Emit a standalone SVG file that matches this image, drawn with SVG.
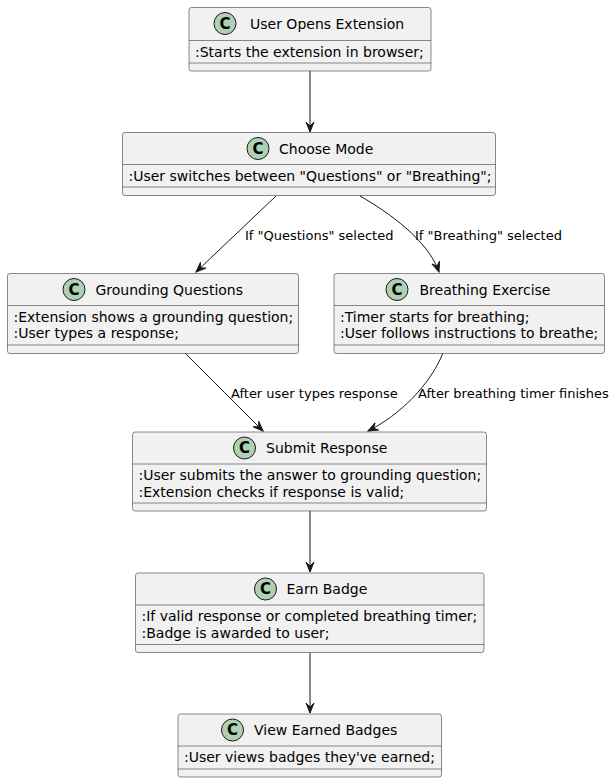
<svg xmlns="http://www.w3.org/2000/svg" width="616" height="784" viewBox="0 0 616 784">
<style>
.box{fill:#F1F1F1;stroke:#181818;stroke-width:0.5}
.sep{stroke:#181818;stroke-width:0.5}
.ic{fill:#ADD1B2;stroke:#181818;stroke-width:1}
.icl{font-family:"DejaVu Sans",sans-serif;font-size:15px;font-weight:bold;fill:#000;text-anchor:middle}
.t{font-family:"DejaVu Sans",sans-serif;font-size:14px;fill:#000}
.a{font-family:"DejaVu Sans",sans-serif;font-size:14px;fill:#000}
.lbl{font-family:"DejaVu Sans",sans-serif;font-size:13px;fill:#000}
.e{fill:none;stroke:#181818;stroke-width:1}
</style>
<defs>
<marker id="ah" viewBox="-11 -5 12 10" refX="0" refY="0" markerWidth="12" markerHeight="10" markerUnits="userSpaceOnUse" orient="auto">
<path d="M0,0 L-10,-4 L-6,0 L-10,4 Z" fill="#181818" stroke="#181818" stroke-width="1"/>
</marker>
</defs>
<rect width="616" height="784" fill="#FFFFFF"/>

<g id="connectors">
<path class="e" d="M310,71 L310,132" marker-end="url(#ah)"/>
<path class="e" d="M276,196 L196,272" marker-end="url(#ah)"/>
<text class="lbl" x="245" y="240">If "Questions" selected</text>
<path class="e" d="M360,196 C388,212 428,240 439,272" marker-end="url(#ah)"/>
<text class="lbl" x="415" y="240">If "Breathing" selected</text>
<path class="e" d="M185,353 C210,378 240,408 263,431" marker-end="url(#ah)"/>
<text class="lbl" x="231" y="398">After user types response</text>
<path class="e" d="M443,353 C430,385 400,415 368,431" marker-end="url(#ah)"/>
<text class="lbl" x="418" y="398">After breathing timer finishes</text>
<path class="e" d="M310,511 L310,572" marker-end="url(#ah)"/>
<path class="e" d="M310,653 L310,713" marker-end="url(#ah)"/>
</g>

<g id="user-opens-extension">
<rect class="box" x="189" y="7.5" width="242" height="63.5" rx="2.5"/>
<circle class="ic" cx="225" cy="23.5" r="11"/>
<text class="icl" x="225" y="28.8">C</text>
<text class="t" x="250" y="28.5">User Opens Extension</text>
<line class="sep" x1="189" y1="40.5" x2="431" y2="40.5"/>
<text class="a" x="195" y="56.5">:Starts the extension in browser;</text>
<line class="sep" x1="189" y1="63" x2="431" y2="63"/>
</g>

<g id="choose-mode">
<rect class="box" x="122.5" y="132.5" width="373" height="63" rx="2.5"/>
<circle class="ic" cx="258" cy="148.5" r="11"/>
<text class="icl" x="258" y="153.8">C</text>
<text class="t" x="279" y="153.5">Choose Mode</text>
<line class="sep" x1="122.5" y1="164.5" x2="495.5" y2="164.5"/>
<text class="a" x="128.5" y="180.5">:User switches between "Questions" or "Breathing";</text>
<line class="sep" x1="122.5" y1="187" x2="495.5" y2="187"/>
</g>

<g id="grounding-questions">
<rect class="box" x="7.5" y="273.5" width="291" height="80" rx="2.5"/>
<circle class="ic" cx="74" cy="289.5" r="11"/>
<text class="icl" x="74" y="294.8">C</text>
<text class="t" x="95.5" y="294.5">Grounding Questions</text>
<line class="sep" x1="7.5" y1="305.5" x2="298.5" y2="305.5"/>
<text class="a" x="13.5" y="321.5">:Extension shows a grounding question;</text>
<text class="a" x="13.5" y="338">:User types a response;</text>
<line class="sep" x1="7.5" y1="345" x2="298.5" y2="345"/>
</g>

<g id="breathing-exercise">
<rect class="box" x="334" y="273.5" width="270.5" height="80" rx="2.5"/>
<circle class="ic" cx="397" cy="289.5" r="11"/>
<text class="icl" x="397" y="294.8">C</text>
<text class="t" x="419.5" y="294.5">Breathing Exercise</text>
<line class="sep" x1="334" y1="305.5" x2="604.5" y2="305.5"/>
<text class="a" x="340" y="321.5">:Timer starts for breathing;</text>
<text class="a" x="340" y="338">:User follows instructions to breathe;</text>
<line class="sep" x1="334" y1="345" x2="604.5" y2="345"/>
</g>

<g id="submit-response">
<rect class="box" x="132.5" y="432" width="354" height="79" rx="2.5"/>
<circle class="ic" cx="244.5" cy="448" r="11"/>
<text class="icl" x="244.5" y="453.3">C</text>
<text class="t" x="266" y="453">Submit Response</text>
<line class="sep" x1="132.5" y1="464" x2="486.5" y2="464"/>
<text class="a" x="138.5" y="480">:User submits the answer to grounding question;</text>
<text class="a" x="138.5" y="496.5">:Extension checks if response is valid;</text>
<line class="sep" x1="132.5" y1="503" x2="486.5" y2="503"/>
</g>

<g id="earn-badge">
<rect class="box" x="135.5" y="573" width="348.5" height="79.5" rx="2.5"/>
<circle class="ic" cx="265.5" cy="589" r="11"/>
<text class="icl" x="265.5" y="594.3">C</text>
<text class="t" x="286.5" y="594">Earn Badge</text>
<line class="sep" x1="135.5" y1="605" x2="484" y2="605"/>
<text class="a" x="141.5" y="621">:If valid response or completed breathing timer;</text>
<text class="a" x="141.5" y="637.5">:Badge is awarded to user;</text>
<line class="sep" x1="135.5" y1="644.5" x2="484" y2="644.5"/>
</g>

<g id="view-earned-badges">
<rect class="box" x="178" y="714" width="263.5" height="63" rx="2.5"/>
<circle class="ic" cx="232.5" cy="730" r="11"/>
<text class="icl" x="232.5" y="735.3">C</text>
<text class="t" x="254" y="735">View Earned Badges</text>
<line class="sep" x1="178" y1="746" x2="441.5" y2="746"/>
<text class="a" x="184" y="762">:User views badges they've earned;</text>
<line class="sep" x1="178" y1="769" x2="441.5" y2="769"/>
</g>
</svg>
